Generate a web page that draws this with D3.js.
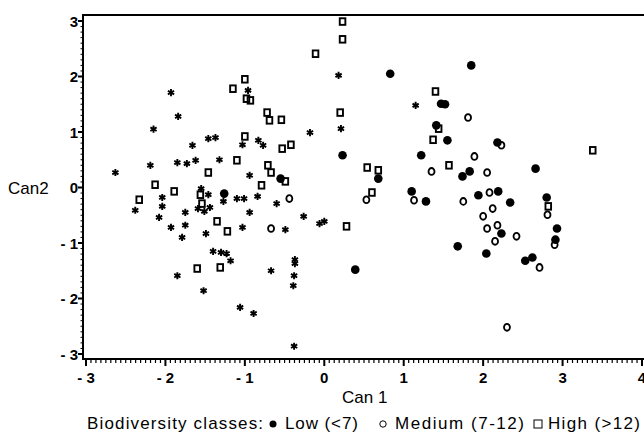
<!DOCTYPE html>
<html>
<head>
<meta charset="utf-8">
<script src="https://cdn.jsdelivr.net/npm/d3@7"></script>
<style>
  body { margin: 0; background: #fff; }
  svg { display: block; }
  .tick-lbl { font-family: "Liberation Sans", Arial, sans-serif; font-weight: bold; font-size: 15px; }
  .lbl { font-family: "Liberation Sans", Arial, sans-serif; font-size: 17px; }
</style>
</head>
<body>
<div id="chart"></div>
<script>
// canonical scores [can1, can2]
const lowPts = [
  [0.83, 2.05], [1.85, 2.20], [1.47, 1.51], [1.52, 1.50], [1.41, 1.12], [1.55, 0.85],
  [2.18, 0.81], [0.23, 0.58], [1.22, 0.58], [2.66, 0.34], [1.74, 0.20], [1.83, 0.29],
  [0.68, 0.16], [1.10, -0.07], [1.28, -0.25], [1.94, -0.14], [2.19, -0.07], [2.34, -0.27],
  [2.80, -0.18], [2.93, -0.74], [2.91, -0.94], [2.23, -0.83], [1.68, -1.06], [2.04, -1.19],
  [2.53, -1.32], [2.62, -1.26], [0.39, -1.48], [-0.55, 0.16], [-1.26, -0.11]
];
const mediumPts = [
  [1.81, 1.26], [2.23, 0.76], [1.89, 0.56], [2.05, 0.27], [1.35, 0.29], [0.53, -0.22],
  [1.13, -0.23], [1.75, -0.25], [2.08, -0.09], [2.00, -0.52], [2.12, -0.38], [2.81, -0.49],
  [2.05, -0.74], [2.18, -0.68], [2.15, -0.97], [2.42, -0.88], [2.90, -1.03], [2.71, -1.44],
  [2.30, -2.52], [-0.44, -0.20], [-0.67, -0.74]
];
const highPts = [
  [0.23, 2.99], [0.23, 2.67], [-0.11, 2.41], [0.20, 1.35], [1.40, 1.73], [1.44, 1.06],
  [1.37, 0.86], [1.57, 0.40], [0.54, 0.36], [0.68, 0.31], [0.60, -0.09], [2.82, -0.34],
  [3.38, 0.67], [0.28, -0.70],
  [-1.00, 1.95], [-1.15, 1.78], [-0.98, 1.60], [-0.93, 1.57], [-0.72, 1.35], [-0.69, 1.21],
  [-0.54, 1.22], [-1.00, 0.92], [-0.53, 0.70], [-0.42, 0.77], [-1.10, 0.49], [-1.46, 0.27],
  [-0.71, 0.40], [-0.67, 0.27], [-0.49, 0.11], [-0.79, 0.04], [-2.13, 0.05], [-1.89, -0.07],
  [-2.33, -0.22], [-1.56, -0.13], [-1.54, -0.29], [-1.35, -0.61], [-1.22, -0.79],
  [-1.60, -1.46], [-1.31, -1.44]
];
// unclassed sites, drawn as stars
const starPts = [
  [0.18, 2.02], [1.15, 1.48], [0.21, 1.06], [-0.18, 0.99],
  [-2.63, 0.27], [-2.19, 0.40], [-2.15, 1.05], [-1.93, 1.71], [-1.84, 1.28], [-1.66, 0.76],
  [-1.85, 0.45], [-1.73, 0.43], [-1.62, 0.49], [-1.46, 0.88], [-1.37, 0.90], [-1.32, 0.50],
  [-0.96, 1.75], [-1.03, 0.77], [-0.83, 0.85], [-0.77, 0.76], [-0.94, 0.22], [-1.55, -0.02],
  [-1.46, -0.13], [-1.27, -0.25], [-1.10, -0.20], [-1.01, -0.20], [-0.84, -0.16], [-0.60, -0.29],
  [-2.04, -0.18], [-2.04, -0.34], [-2.38, -0.41], [-1.75, -0.45], [-1.59, -0.38], [-1.51, -0.43],
  [-1.44, -0.36], [-0.94, -0.45], [-0.26, -0.52], [-2.08, -0.54], [-1.93, -0.72], [-1.75, -0.68],
  [-1.79, -0.90], [-1.49, -0.83], [-1.03, -0.72], [-1.40, -1.15], [-1.30, -1.17], [-1.23, -1.19],
  [-1.18, -1.32], [-0.49, -0.76], [-0.06, -0.65], [0.00, -0.61], [-1.85, -1.59], [-1.52, -1.86],
  [-0.67, -1.50], [-0.37, -1.30], [-0.37, -1.37], [-0.38, -1.59], [-0.39, -1.77], [-1.06, -2.16],
  [-0.89, -2.27], [-0.38, -2.86]
];
const xTicks = [-3, -2, -1, 0, 1, 2, 3, 4];
const yTicks = [-3, -2, -1, 0, 1, 2, 3];
const xTitle = 'Can 1';
const yTitle = 'Can2';
const legendTitle = 'Biodiversity classes:';
const legendNames = ['Low (<7)', 'Medium  (7-12)', 'High (>12)'];

const W = 644, H = 435;
const svg = d3.select('#chart').append('svg').attr('width', W).attr('height', H);

const x = d3.scaleLinear().domain([-3, 4]).range([86, 642]);
const y = d3.scaleLinear().domain([-3, 3]).range([354, 21]);
const frameLeft = 83, frameTop = 15, frameBottom = 359;

const fmt = d => d < 0 ? '- ' + Math.abs(d) : String(d);
const isMajor = d => Math.abs(d - Math.round(d)) < 1e-6;

// frame (right side runs off the page)
svg.append('path')
  .attr('d', `M${W + 5},${frameTop}H${frameLeft}V${frameBottom}H${W + 5}`)
  .attr('fill', 'none').attr('stroke', '#000').attr('stroke-width', 2);

// x axis
const xMinor = d3.range(-3, 4.001, 1 / 16);
svg.append('g').selectAll('line').data(xMinor).join('line')
  .attr('x1', d => x(d)).attr('x2', d => x(d))
  .attr('y1', frameBottom).attr('y2', d => frameBottom + (isMajor(d) ? 7 : 4))
  .attr('stroke', '#000').attr('stroke-width', d => isMajor(d) ? 2 : 1.2);
svg.append('g').selectAll('text').data(xTicks).join('text')
  .attr('class', 'tick-lbl')
  .attr('x', d => x(d)).attr('y', 383)
  .attr('text-anchor', 'middle')
  .text(fmt);

// y axis
const yMinor = d3.range(-3, 3.001, 0.1);
svg.append('g').selectAll('line').data(yMinor).join('line')
  .attr('x1', frameLeft).attr('x2', d => frameLeft - (isMajor(d) ? 5 : 2.5))
  .attr('y1', d => y(d)).attr('y2', d => y(d))
  .attr('stroke', '#000').attr('stroke-width', d => isMajor(d) ? 2 : 1);
svg.append('g').selectAll('text').data(yTicks).join('text')
  .attr('class', 'tick-lbl')
  .attr('x', 78).attr('y', d => y(d) + 5.5)
  .attr('text-anchor', 'end')
  .text(fmt);

svg.append('text').attr('class', 'lbl').attr('x', 8).attr('y', 194).text(yTitle);
svg.append('text').attr('class', 'lbl').attr('x', 342).attr('y', 403).text(xTitle);

// marks
const plot = svg.append('g');
const pos = d => `translate(${x(d[0])},${y(d[1])})`;

plot.selectAll('.high').data(highPts).join('rect')
  .attr('class', 'high')
  .attr('x', d => x(d[0]) - 2.8).attr('y', d => y(d[1]) - 3.3)
  .attr('width', 5.6).attr('height', 6.6)
  .attr('fill', 'none').attr('stroke', '#000').attr('stroke-width', 1.9);

plot.selectAll('.medium').data(mediumPts).join('ellipse')
  .attr('class', 'medium')
  .attr('cx', d => x(d[0])).attr('cy', d => y(d[1])).attr('rx', 3).attr('ry', 3.4)
  .attr('fill', 'none').attr('stroke', '#000').attr('stroke-width', 1.8);

plot.selectAll('.low').data(lowPts).join('circle')
  .attr('class', 'low')
  .attr('cx', d => x(d[0])).attr('cy', d => y(d[1])).attr('r', 4.3)
  .attr('fill', '#000');

plot.selectAll('.star').data(starPts).join('path')
  .attr('class', 'star')
  .attr('transform', pos)
  .attr('d', d3.symbol(d3.symbolAsterisk, 36))
  .attr('fill', 'none').attr('stroke', '#000').attr('stroke-width', 1.9);

// legend line
const lg = svg.append('g').attr('class', 'lbl');
lg.append('text').attr('x', 87).attr('y', 429).attr('textLength', 176).text(legendTitle);
lg.append('circle').attr('cx', 273).attr('cy', 424).attr('r', 3.5).attr('fill', '#000');
lg.append('text').attr('x', 285).attr('y', 429).attr('textLength', 73).text(legendNames[0]);
lg.append('circle').attr('cx', 383).attr('cy', 424).attr('r', 3.2)
  .attr('fill', 'none').attr('stroke', '#000').attr('stroke-width', 1);
lg.append('text').attr('x', 395).attr('y', 429).attr('textLength', 129).text(legendNames[1]);
lg.append('rect').attr('x', 534).attr('y', 420).attr('width', 8).attr('height', 8)
  .attr('fill', 'none').attr('stroke', '#000').attr('stroke-width', 1);
lg.append('text').attr('x', 548).attr('y', 429).attr('textLength', 92).text(legendNames[2]);
</script>
</body>
</html>
